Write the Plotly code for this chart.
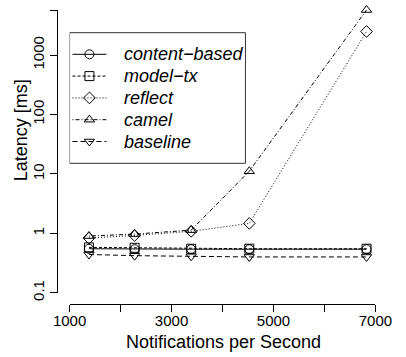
import math
import plotly.graph_objects as go

rates = [1380, 2275, 3385, 4525, 6825]
content_based = [0.55, 0.54, 0.54, 0.54, 0.54]
model_tx = [0.58, 0.57, 0.55, 0.55, 0.55]
reflect = [0.83, 0.92, 1.08, 1.47, 2500]
camel = [0.90, 0.97, 1.13, 11.1, 5750]
baseline = [0.44, 0.42, 0.41, 0.40, 0.40]

names = ["content\u2212based", "model\u2212tx", "reflect", "camel", "baseline"]
values = [content_based, model_tx, reflect, camel, baseline]
symbols = ["circle-open", "square-open", "diamond-open", "triangle-up-open", "triangle-down-open"]
dashes = ["solid", "3px,2px", "1px,2px", "1px,2px,4px,2px", "5px,3px"]

x_tickvals = [1000, 2000, 3000, 4000, 5000, 6000, 7000]
x_ticktext = ["1000", "", "3000", "", "5000", "", "7000"]
y_tickvals = [0.1, 1, 10, 100, 1000, max(camel)]
y_ticktext = ["0.1", "1", "10", "100", "1000", ""]

W, H = 406, 357
L, R, T, B = 57, 6, 0, 53
pw, ph = W - L - R, H - T - B
# pixel extents of the data axes
X0, X1 = 70, 386
Y0, Y1 = 292.7, 10

fig = go.Figure()
for name, vals, sym, dash in zip(names, values, symbols, dashes):
    fig.add_trace(go.Scatter(
        x=rates, y=vals, name=name, mode="lines+markers", showlegend=False,
        line=dict(color="black", width=1, dash=dash),
        marker=dict(symbol=sym, size=9, color="black", line=dict(width=1, color="black")),
        cliponaxis=False,
    ))

# legend drawn on an overlay pixel-scaled axis pair (x2/y2)
leg_left, leg_top, leg_right, leg_bottom = 70, 32.7, 251.7, 163.3
row0, row_gap = 54.3, 21.8
for i, (name, sym, dash) in enumerate(zip(names, symbols, dashes)):
    yy = row0 + i * row_gap
    fig.add_trace(go.Scatter(
        x=[73, 108], y=[yy, yy], mode="lines", showlegend=False, hoverinfo="skip",
        line=dict(color="black", width=1, dash=dash), xaxis="x2", yaxis="y2", cliponaxis=False,
    ))
    fig.add_trace(go.Scatter(
        x=[90.5], y=[yy], mode="markers", showlegend=False, hoverinfo="skip",
        marker=dict(symbol=sym, size=9, color="black", line=dict(width=1, color="black")),
        xaxis="x2", yaxis="y2", cliponaxis=False,
    ))
    fig.add_annotation(
        x=124, y=yy, xref="x2", yref="y2", text=name, showarrow=False,
        xanchor="left", yanchor="middle",
        font=dict(size=18, style="italic", color="black"),
    )
fig.add_shape(type="rect", xref="x2", yref="y2",
              x0=leg_left, x1=leg_right, y0=leg_top, y1=leg_bottom,
              line=dict(color="#333333", width=1))

fig.update_layout(
    width=W, height=H,
    margin=dict(l=L, r=R, t=T, b=B, pad=0),
    paper_bgcolor="white", plot_bgcolor="white",
    font=dict(family="Liberation Sans, Arial, sans-serif", color="black", size=15),
    showlegend=False,
    xaxis=dict(
        anchor="free", position=0,
        domain=[(X0 - L) / pw, (X1 - L) / pw],
        range=[1000, 7000],
        tickvals=x_tickvals, ticktext=x_ticktext,
        ticks="outside", ticklen=7, tickwidth=1, tickcolor="black",
        showline=True, linecolor="black", linewidth=1,
        showgrid=False, zeroline=False,
        tickfont=dict(size=15), ticklabelstandoff=-4,
    ),
    yaxis=dict(
        anchor="free", position=0,
        type="log",
        domain=[(ph - Y0) / ph, (ph - Y1) / ph],
        range=[-1, math.log10(max(camel))],
        tickvals=y_tickvals, ticktext=y_ticktext,
        tickangle=-90,
        ticks="outside", ticklen=7, tickwidth=1, tickcolor="black",
        showline=True, linecolor="black", linewidth=1,
        showgrid=False, zeroline=False,
        tickfont=dict(size=15),
    ),
    xaxis2=dict(anchor="y2", range=[X0, X1], visible=False, overlaying="x"),
    yaxis2=dict(anchor="x2", range=[Y0, Y1], visible=False, overlaying="y"),
    annotations=list(fig.layout.annotations) + [
        dict(text="Notifications per Second", xref="paper", yref="paper",
             x=(229 - L) / pw, y=(ph - 342) / ph, showarrow=False,
             xanchor="center", yanchor="middle", font=dict(size=18)),
        dict(text="Latency [ms]", xref="paper", yref="paper",
             x=(20 - L) / pw, y=(ph - 130) / ph, showarrow=False, textangle=-90,
             xanchor="center", yanchor="middle", font=dict(size=18)),
    ],
)

fig.write_html("out.html")
